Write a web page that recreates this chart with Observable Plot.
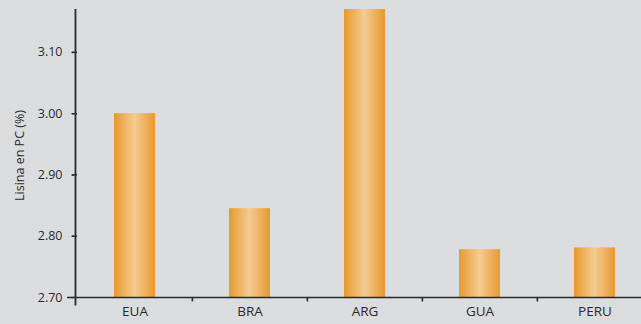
<!DOCTYPE html>
<html>
<head>
<meta charset="utf-8">
<script src="https://cdn.jsdelivr.net/npm/d3@7"></script>
<script src="https://cdn.jsdelivr.net/npm/@observablehq/plot@0.6"></script>
<style>
  html, body { margin: 0; padding: 0; background: #DCDDDF; }
  #chart { width: 641px; height: 324px; }
</style>
</head>
<body>
<div id="chart"></div>
<script>
const countries = ["EUA", "BRA", "ARG", "GUA", "PERU"];
const lysine = [3.00, 2.845, 3.17, 2.778, 2.781];
const yTicks = [2.70, 2.80, 2.90, 3.00, 3.10];
const yLabel = "Lisina en PC (%)";

const data = countries.map((c, i) => ({country: c, value: lysine[i]}));
const font = "'Open Sans', 'Noto Sans', sans-serif";
const ink = "#2a2a2c";

const W = 641, marginLeft = 74;
const bandLeft = 75.9, bandRight = 652.1;
const halfBand = (bandRight - bandLeft) / countries.length / 2;

const chart = Plot.plot({
  width: W,
  height: 324,
  marginLeft: marginLeft,
  marginRight: 0,
  marginTop: 9,
  marginBottom: 27,
  style: {background: "#DCDDDF", fontFamily: font, color: ink, overflow: "visible"},
  x: {domain: countries, range: [bandLeft, bandRight], paddingInner: 0.645, paddingOuter: 0.3225, align: 0.5},
  y: {domain: [2.70, 3.17], range: [297, 9]},
  marks: [
    Plot.barY(data, {x: "country", y1: 2.70, y2: "value", fill: "url(#barGrad)"}),
    Plot.ruleX(countries.slice(1), {x: d => d, dx: -halfBand, y1: 2.70, y2: 2.70, insetBottom: -4.5, stroke: ink, strokeWidth: 1.6}),
    Plot.ruleY([2.70], {insetLeft: -7, stroke: ink, strokeWidth: 1.6}),
    Plot.ruleX([0], {x: () => countries[0], dx: -halfBand - 1.9, y1: 3.17, y2: 2.70, insetBottom: -8.5, stroke: ink, strokeWidth: 1.8}),
    Plot.axisY({ticks: yTicks, tickFormat: d3.format(".2f"), tickSize: 2.5, tickPadding: 9.5, stroke: ink, strokeWidth: 1.4, fontSize: 12.5, fill: ink, label: null}),
    Plot.ruleY(yTicks.slice(1), {insetLeft: -2, insetRight: W - marginLeft - 3, stroke: ink, strokeWidth: 1.4}),
    Plot.axisX({tickSize: 0, tickPadding: 9, fontSize: 13.5, fill: ink, label: null}),
    Plot.text([yLabel], {frameAnchor: "left", textAnchor: "middle", dx: -55, dy: 2, rotate: -90, fontSize: 12.5, fill: ink})
  ]
});

// gradient definition for the bars
const svg = d3.select(chart);
const defs = svg.insert("defs", ":first-child");
const grad = defs.append("linearGradient").attr("id", "barGrad").attr("x1", "0").attr("x2", "1").attr("y1", "0").attr("y2", "0");
grad.append("stop").attr("offset", "0%").attr("stop-color", "#E8992E");
grad.append("stop").attr("offset", "50%").attr("stop-color", "#F4CC93");
grad.append("stop").attr("offset", "100%").attr("stop-color", "#E8992E");

document.getElementById("chart").appendChild(chart);
</script>
</body>
</html>
